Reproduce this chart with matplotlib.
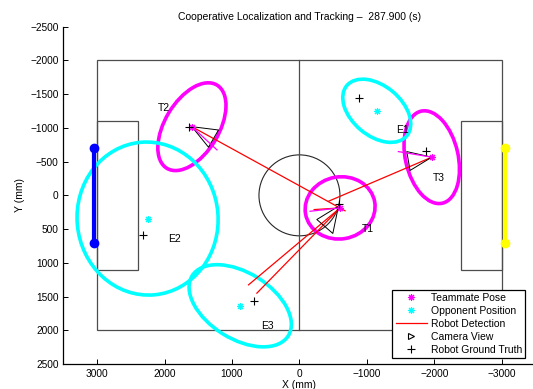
import numpy as np
import matplotlib
matplotlib.use("Agg")
import matplotlib.pyplot as plt
from matplotlib.patches import Ellipse, Rectangle, Circle
from matplotlib.lines import Line2D

plt.rcParams['font.family'] = ['Liberation Sans', 'DejaVu Sans']

TITLE = "Cooperative Localization and Tracking \u2013  287.900 (s)"

# robots: name, estimated pose, ground truth (mm)
TEAM_NAMES = ["T1", "T2", "T3"]
TEAM_EST = [(-603, 186), (1594, -1018), (-1961, -566)]
TEAM_GT = [(-580, 130), (1644, -1018), (-1872, -659)]
TEAM_HEAD = [(-158, 236), (1222, -674), (-1466, -649)]      # heading line end
TEAM_ELL = [(520, 460, 10), (720, 400, 59), (700, 390, 103)]  # a, b, angle(deg)
TEAM_LABEL = [(-920, 500), (2100, -1300), (-1970, -260)]
CAM_VIEW = [[(-578, 162), (-258, 358), (-495, 565)],
            [(1594, -1018), (1200, -969), (1348, -714)],
            [(-1961, -566), (-1591, -649), (-1640, -369)]]

OPP_NAMES = ["E1", "E2", "E3"]
OPP_EST = [(-1146, -1254), (2251, 344), (878, 1637)]
OPP_GT = [(-889, -1437), (2319, 590), (671, 1563)]
OPP_ELL = [(580, 370, 140), (1135, 1045, 95), (840, 490, 148)]
OPP_LABEL = [(-1440, -970), (1940, 643), (570, 1940)]

# detections (start, end)
DETECTIONS = [((1594, -1018), (-676, 229)),
              ((-1961, -566), (-429, 88)),
              ((-603, 186), (755, 1327)),
              ((-603, 186), (631, 1450)),
              ((-603, 186), (-218, 211))]

MAGENTA = "#ff00ff"
CYAN = "#00ffff"
FIELD = "0.3"

fig = plt.figure(figsize=(5.33, 3.89), dpi=100)
ax = fig.add_axes([0.1188, 0.0643, 0.886, 0.867])

# --- field ---
ax.add_patch(Rectangle((-3000, -2000), 6000, 4000, fill=False, ec=FIELD, lw=0.9))
ax.plot([0, 0], [-2000, 2000], color=FIELD, lw=0.9)
ax.add_patch(Rectangle((2400, -1100), 600, 2200, fill=False, ec=FIELD, lw=0.9))
ax.add_patch(Rectangle((-3000, -1100), 600, 2200, fill=False, ec=FIELD, lw=0.9))
ax.add_patch(Circle((0, 0), 600, fill=False, ec="0.15", lw=0.8))
ax.plot([3050, 3050], [-700, 700], color="#0000ff", lw=3, marker="o", ms=6)
ax.plot([-3050, -3050], [-700, 700], color="#ffff00", lw=3, marker="o", ms=6)

# --- uncertainty ellipses ---
for (x, y), (a, b, ang) in zip(TEAM_EST, TEAM_ELL):
    ax.add_patch(Ellipse((x, y), 2*a, 2*b, angle=ang, fill=False, ec=MAGENTA, lw=2.6))
for (x, y), (a, b, ang) in zip(OPP_EST, OPP_ELL):
    ax.add_patch(Ellipse((x, y), 2*a, 2*b, angle=ang, fill=False, ec=CYAN, lw=2.6))

# --- detections ---
for (x0, y0), (x1, y1) in DETECTIONS:
    ax.plot([x0, x1], [y0, y1], color="#ff0000", lw=0.9)

# --- camera views + headings ---
for tri in CAM_VIEW:
    t = np.array(tri + [tri[0]])
    ax.plot(t[:, 0], t[:, 1], color="k", lw=0.7)
for (x, y), (hx, hy) in zip(TEAM_EST, TEAM_HEAD):
    ax.plot([x, hx], [y, hy], color=MAGENTA, lw=0.9)

# --- markers ---
star = (8, 2, 0)
te = np.array(TEAM_EST); oe = np.array(OPP_EST)
tg = np.array(TEAM_GT); og = np.array(OPP_GT)
ax.plot(te[:, 0], te[:, 1], ls="none", marker=star, color=MAGENTA, ms=5, mew=0.8)
ax.plot(oe[:, 0], oe[:, 1], ls="none", marker=star, color=CYAN, ms=5, mew=0.8)
ax.plot(tg[:, 0], tg[:, 1], ls="none", marker="+", color="k", ms=6, mew=0.8)
ax.plot(og[:, 0], og[:, 1], ls="none", marker="+", color="k", ms=6, mew=0.8)

for name, (x, y) in zip(TEAM_NAMES + OPP_NAMES, TEAM_LABEL + OPP_LABEL):
    ax.text(x, y, name, ha="left", va="center", fontsize=7.5)

ax.set_xlim(3500, -3500)
ax.set_ylim(2500, -2500)
ax.set_xticks(np.arange(3000, -3001, -1000))
ax.set_yticks(np.arange(-2500, 2501, 500))
ax.tick_params(direction="in", length=3.5, labelsize=7.3, width=0.7)
for s in ["top", "right"]:
    ax.spines[s].set_visible(False)
for s in ["left", "bottom"]:
    ax.spines[s].set_linewidth(0.9)
ax.set_xlabel("X (mm)", fontsize=7.5, labelpad=1)
ax.set_ylabel("Y (mm)", fontsize=7.5, labelpad=4)
ax.set_title(TITLE, fontsize=7.5, pad=5)

handles = [Line2D([], [], ls="none", marker=star, color=MAGENTA, ms=5, mew=0.8),
           Line2D([], [], ls="none", marker=star, color=CYAN, ms=5, mew=0.8),
           Line2D([], [], color="#ff0000", lw=0.9),
           Line2D([], [], ls="none", marker=">", mfc="none", mec="k", ms=5, mew=0.8),
           Line2D([], [], ls="none", marker="+", color="k", ms=6, mew=0.8)]
labels = ["Teammate Pose", "Opponent Position", "Robot Detection",
          "Camera View", "Robot Ground Truth"]
leg = ax.legend(handles, labels, loc="lower left", bbox_to_anchor=(0.697, 0.017),
                fontsize=7.5, frameon=True, fancybox=False, framealpha=1,
                edgecolor="k", borderpad=0.3, labelspacing=0.3,
                handlelength=3.0, handletextpad=0.4, borderaxespad=0)
leg.get_frame().set_linewidth(0.9)

fig.savefig("out.png", dpi=100)
